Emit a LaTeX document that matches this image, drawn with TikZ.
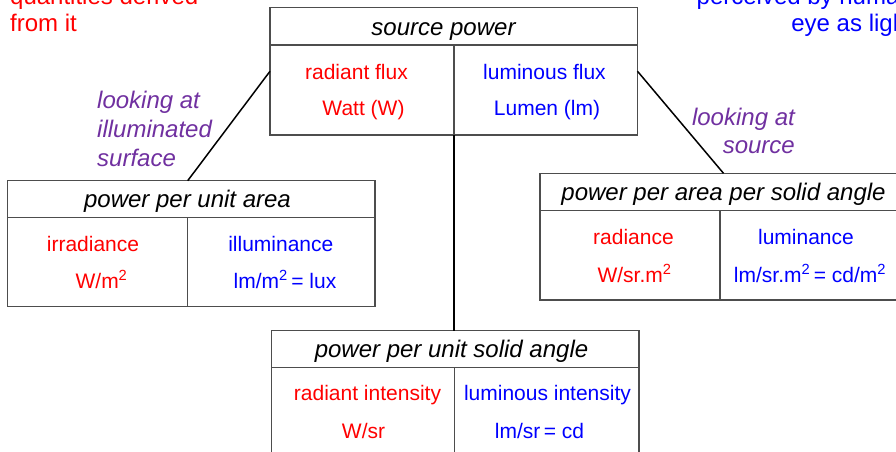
\documentclass[tikz,border=0pt]{standalone}
\usepackage{fontspec}
\setmainfont{Liberation Sans}
\definecolor{qred}{HTML}{FF0000}
\definecolor{qblue}{HTML}{0000FF}
\definecolor{qpurple}{HTML}{7030A0}
\definecolor{qframe}{HTML}{4D4D4D}
\begin{document}
\begin{tikzpicture}[x=1pt,y=-1pt,
  cell/.style={draw=qframe,line width=1.1pt,rectangle,inner sep=0pt,outer sep=0pt,anchor=north west},
  body/.style={font=\fontsize{21}{25}\selectfont,anchor=base,inner sep=0pt},
  head/.style={font=\fontsize{24}{28}\selectfont\itshape,anchor=base,inner sep=0pt,text=black},
  note/.style={font=\fontsize{24}{28}\selectfont,inner sep=0pt},
  look/.style={font=\fontsize{24}{28}\selectfont\itshape,inner sep=0pt,text=qpurple},
  link/.style={draw=black,line width=1.5pt}]
\useasboundingbox (0,0) rectangle (896,451);
\clip (0,0) rectangle (896,451);

% top notes
\node[note,text=qred,anchor=base west] (nr1) at (10,4) {quantities derived};
\node[note,text=qred,anchor=base west] (nr2) at (10,31) {from it};
\node[note,text=qblue,anchor=base east] (nb1) at (913,4) {perceived by human};
\node[note,text=qblue,anchor=base east] (nb2) at (913,31) {eye as light};

% source power box
\node[cell,minimum width=367.5pt,minimum height=127.5pt] (src) at (270,7.5) {};
\node[cell,minimum width=367.5pt,minimum height=37.5pt] (srch) at (270,7.5) {};
\node[cell,minimum width=184pt,minimum height=90pt] (srcl) at (270,45) {};
\node[cell,minimum width=183.5pt,minimum height=90pt] (srcr) at (454,45) {};
\node[head] (srct) at (443.5,35) {source power};
\node[body,text=qred] (srcl1) at (356.5,79) {radiant flux};
\node[body,text=qred] (srcl2) at (363.5,115.5) {Watt (W)};
\node[body,text=qblue] (srcr1) at (544.5,79) {luminous flux};
\node[body,text=qblue] (srcr2) at (547,115.5) {Lumen (lm)};

% left box
\node[cell,minimum width=367.7pt,minimum height=126pt] (lb) at (7.3,180.7) {};
\node[cell,minimum width=367.7pt,minimum height=37pt] (lh) at (7.3,180.7) {};
\node[cell,minimum width=180.4pt,minimum height=89pt] (ll) at (7.3,217.7) {};
\node[cell,minimum width=187.3pt,minimum height=89pt] (lr) at (187.7,217.7) {};
\node[head] (lt) at (187.5,207.5) {power per unit area};
\node[body,text=qred] (ll1) at (93,251) {irradiance};
\node[body,text=qred] (ll2) at (101.5,288) {W/m\textsuperscript{2}};
\node[body,text=qblue] (lr1) at (280.8,251) {illuminance};
\node[body,text=qblue] (lr2) at (285,288) {lm/m\textsuperscript{2}\,= lux};

% right box
\node[cell,minimum width=367pt,minimum height=126.7pt] (rb) at (540,173.3) {};
\node[cell,minimum width=367pt,minimum height=37.4pt] (rh) at (540,173.3) {};
\node[cell,minimum width=180pt,minimum height=89.3pt] (rl) at (540,210.7) {};
\node[cell,minimum width=187pt,minimum height=89.3pt] (rr) at (720,210.7) {};
\node[head] (rt) at (723.5,200) {power per area per solid angle};
\node[body,text=qred] (rl1) at (633.5,244) {radiance};
\node[body,text=qred] (rl2) at (634.5,282.5) {W/sr.m\textsuperscript{2}};
\node[body,text=qblue] (rr1) at (806,244) {luminance};
\node[body,text=qblue] (rr2) at (810,282.5) {lm/sr.m\textsuperscript{2}\,= cd/m\textsuperscript{2}};

% bottom box
\node[cell,minimum width=367.3pt,minimum height=126.3pt] (bb) at (271.7,330.7) {};
\node[cell,minimum width=367.3pt,minimum height=37pt] (bh) at (271.7,330.7) {};
\node[cell,minimum width=182.6pt,minimum height=89.3pt] (bl) at (271.7,367.7) {};
\node[cell,minimum width=184.7pt,minimum height=89.3pt] (br) at (454.3,367.7) {};
\node[head] (bt) at (451.5,357.3) {power per unit solid angle};
\node[body,text=qred] (bl1) at (367.5,400) {radiant intensity};
\node[body,text=qred] (bl2) at (363.5,438) {W/sr};
\node[body,text=qblue] (br1) at (547.5,400) {luminous intensity};
\node[body,text=qblue] (br2) at (539.5,438) {lm/sr\,= cd};

% connector labels
\node[look,anchor=base west] (la1) at (97,108) {looking at};
\node[look,anchor=base west] (la2) at (97,137) {illuminated};
\node[look,anchor=base west] (la3) at (97,166) {surface};
\node[look,anchor=base east] (ra1) at (795,125) {looking at};
\node[look,anchor=base east] (ra2) at (795,153.5) {source};

% connectors
\draw[link] (src.west) -- (lh.north -| ll.east);
\draw[link] (src.east) -- (rh.north);
\draw[link] (src.south) -- (src.south |- bh.north);
\end{tikzpicture}
\end{document}
